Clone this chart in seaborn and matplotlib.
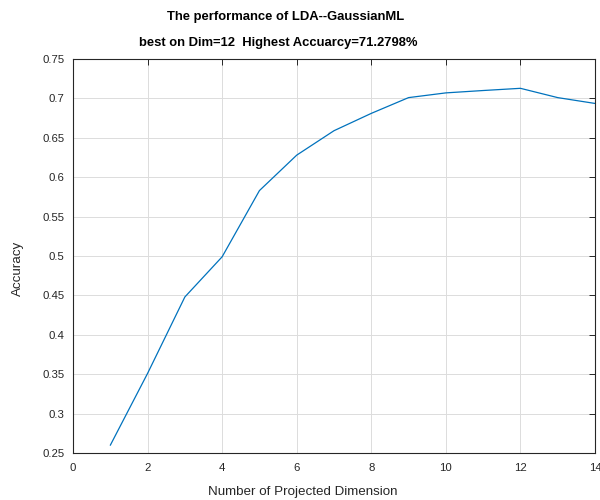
import matplotlib
matplotlib.use("Agg")
import matplotlib.pyplot as plt
import seaborn as sns
import pandas as pd

dims = [1, 2, 3, 4, 5, 6, 7, 8, 9, 10, 11, 12, 13, 14]
accuracy = [0.2598, 0.351, 0.448, 0.499, 0.583, 0.628, 0.659, 0.681, 0.701,
            0.707, 0.710, 0.7128, 0.701, 0.6936]
xticks = [0, 2, 4, 6, 8, 10, 12, 14]
yticks = [0.25, 0.3, 0.35, 0.4, 0.45, 0.5, 0.55, 0.6, 0.65, 0.7, 0.75]
ytick_labels = ["0.25", "0.3", "0.35", "0.4", "0.45", "0.5", "0.55", "0.6", "0.65", "0.7", "0.75"]
title1 = "The performance of LDA--GaussianML"
title2 = "best on Dim=12  Highest Accuarcy=71.2798%"

sns.set_style("white")
plt.rcParams['font.family'] = ['Liberation Sans', 'DejaVu Sans']

df = pd.DataFrame({"dim": dims, "acc": accuracy})

fig = plt.figure(figsize=(6, 5), dpi=100)
ax = fig.add_axes([73/600, 1-453/500, (595-73)/600, (453-59)/500])
sns.lineplot(data=df, x="dim", y="acc", ax=ax, color="#0072BD", linewidth=0.9)

ax.set_xlim(0, 14)
ax.set_ylim(0.25, 0.75)
ax.set_xticks(xticks)
ax.set_yticks(yticks)
ax.set_yticklabels(ytick_labels)
ax.grid(True, color="#dcdcdc", linewidth=0.7)
ax.tick_params(direction="in", length=4, width=0.7, labelsize=8.2, colors="#262626",
               top=True, right=True, labeltop=False, labelright=False, pad=6)
ax.tick_params(axis="x", pad=7)
for s in ax.spines.values():
    s.set_color("#262626")
    s.set_linewidth(0.8)
    s.set_visible(True)
ax.set_xlabel("")
ax.set_ylabel("")

fig.text(286/600, 1-17/500, title1, ha="center", va="center", fontsize=9.4, fontweight="bold", color="black")
fig.text(278/600, 1-43/500, title2, ha="center", va="center", fontsize=9.4, fontweight="bold", color="black")
fig.text(303/600, 1-492/500, "Number of Projected Dimension", ha="center", va="center",
         fontsize=9.6, color="#262626")
fig.text(18/600, 1-268/500, "Accuracy", ha="center", va="center", rotation=90,
         fontsize=9.6, color="#262626")

fig.savefig("out.png", dpi=100)
